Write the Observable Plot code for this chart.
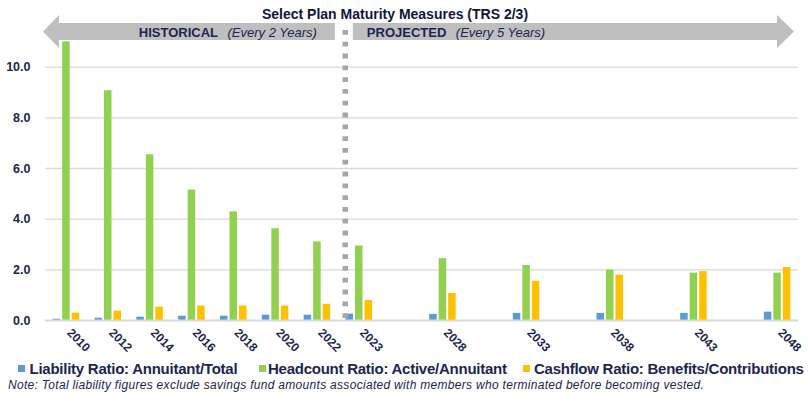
<!DOCTYPE html>
<html><head><meta charset="utf-8">
<script src="https://cdn.jsdelivr.net/npm/d3@7"></script>
<script src="https://cdn.jsdelivr.net/npm/@observablehq/plot@0.6"></script>
<style>
body{margin:0;background:#fff;font-family:"Liberation Sans",Arial,sans-serif;}
#wrap{position:relative;width:808px;height:398px;overflow:hidden;background:#fff}
#wrap svg{position:absolute;left:0;top:0}
.leg{position:absolute;top:361px;font-size:15px;line-height:15px;font-weight:bold;color:#1b2550;white-space:nowrap;letter-spacing:-0.25px}
.sw{position:absolute;top:365px;width:7px;height:7px}
#note{position:absolute;left:8px;top:379px;font-size:12px;line-height:12px;font-style:italic;color:#1b2550;white-space:nowrap;letter-spacing:0.3px}
</style></head><body><div id="wrap"></div>
<script>
// ---- data ----
const slots = ["2010","2012","2014","2016","2018","2020","2022","2023","s1","2028","s2","2033","s3","2038","s4","2043","s5","2048"];
const years = ["2010","2012","2014","2016","2018","2020","2022","2023","2028","2033","2038","2043","2048"];
const liability = [0.05,0.09,0.13,0.17,0.17,0.21,0.21,0.25,0.24,0.28,0.28,0.28,0.33];
const headcount = [11.0,9.07,6.54,5.15,4.29,3.62,3.10,2.94,2.44,2.17,1.99,1.87,1.87];
const cashflow  = [0.29,0.37,0.53,0.57,0.57,0.57,0.64,0.79,1.07,1.55,1.79,1.93,2.09];
const seriesNames = ["Liability Ratio: Annuitant/Total","Headcount Ratio: Active/Annuitant","Cashflow Ratio: Benefits/Contributions"];
const seriesColors = ["#5b9bd5","#92d050","#ffc000"];
const yTicks = [0,2,4,6,8,10];
const titleText = "Select Plan Maturity Measures (TRS 2/3)";
const periodLabels = [["HISTORICAL","(Every 2 Years)"],["PROJECTED","(Every 5 Years)"]];
const noteText = "Note: Total liability figures exclude savings fund amounts associated with members who terminated before becoming vested.";

// ---- layout ----
const W=808,H=356,ML=45,MR=10,MT=16,MB=36;
const slotW=(W-ML-MR)/slots.length;
const barW=7.5, offset=9.5, inset=(slotW-barW)/2;
const navy="#1b2550";
const keys=["liability","headcount","cashflow"];
const rows=years.map((y,i)=>({year:y,liability:liability[i],headcount:headcount[i],cashflow:cashflow[i]}));

const plot = Plot.plot({
  width:W,height:H,marginLeft:ML,marginRight:MR,marginTop:MT,marginBottom:MB,
  style:{fontFamily:"'Liberation Sans', Arial, sans-serif",background:"white",overflow:"visible"},
  x:{type:"band",domain:slots,padding:0,round:false,axis:null},
  y:{domain:[0,12],axis:null},
  marks:[
    Plot.gridY(yTicks.filter(d=>d>0),{stroke:"#d9d9d9",strokeOpacity:1,strokeWidth:1.3}),
    Plot.axisY(yTicks,{tickSize:0,tickPadding:15,tickFormat:d=>d.toFixed(1),fontSize:12.5,fontWeight:"bold",color:navy,label:null}),
    ...keys.map((k,i)=>Plot.barY(rows,{x:"year",y:k,fill:seriesColors[i],insetLeft:inset,insetRight:inset,dx:(i-1)*offset})),
    Plot.ruleY([0],{stroke:"#d9d9d9",strokeWidth:2}),
    Plot.ruleX(["2023"],{dx:-14,insetTop:14,stroke:"#a6a6a6",strokeWidth:5.5,strokeDasharray:"4.8,7"}),
    Plot.text(years,{x:d=>d,frameAnchor:"bottom",dy:13,rotate:45,textAnchor:"start",fontSize:12,fontWeight:"bold",fill:navy})
  ]
});
document.getElementById("wrap").appendChild(plot);

// ---- annotations: arrows and title ----
const xs = plot.scale("x");
const bw = xs.bandwidth;
const b = xs.apply("2023");
const E = xs.apply("2048")+bw;
const svg = d3.select(plot);
const g = svg.append("g");
const hx = ML+14;
g.append("polygon").attr("fill","#bfbfbf")
  .attr("points",[[ML-2,31.5],[hx,15],[hx,23],[b-3,23],[b-3,40],[hx,40],[hx,48]].join(" "));
g.append("polygon").attr("fill","#bfbfbf")
  .attr("points",[[b+15,23],[E-21,23],[E-21,15],[E-4,31.5],[E-21,48],[E-21,40],[b+15,40]].join(" "));
const mk=(x,anchor,lab)=>{
  const t=g.append("text").attr("x",x).attr("y",36.5).attr("text-anchor",anchor)
    .attr("font-size",13).attr("fill",navy).attr("font-family","'Liberation Sans', Arial, sans-serif");
  t.append("tspan").attr("font-weight","bold").text(lab[0]);
  t.append("tspan").attr("dx",9.5).attr("font-style","italic").text(lab[1]);
};
mk(b-21,"end",periodLabels[0]);
mk(b+29,"start",periodLabels[1]);
g.append("text").attr("x",395).attr("y",19.3).attr("text-anchor","middle")
  .attr("font-size",14).attr("font-weight","bold").attr("fill","#10163a")
  .attr("font-family","'Liberation Sans', Arial, sans-serif").text(titleText);

// ---- legend and note ----
const wrap=document.getElementById("wrap");
const swL=[18,259,523], txL=[29.5,268,534];
seriesNames.forEach((n,i)=>{
  const s=document.createElement("div"); s.className="sw"; s.style.left=swL[i]+"px"; s.style.background=seriesColors[i]; wrap.appendChild(s);
  const t=document.createElement("div"); t.className="leg"; t.style.left=txL[i]+"px"; t.textContent=n; wrap.appendChild(t);
});
const nt=document.createElement("div"); nt.id="note"; nt.textContent=noteText; wrap.appendChild(nt);
</script></body></html>
